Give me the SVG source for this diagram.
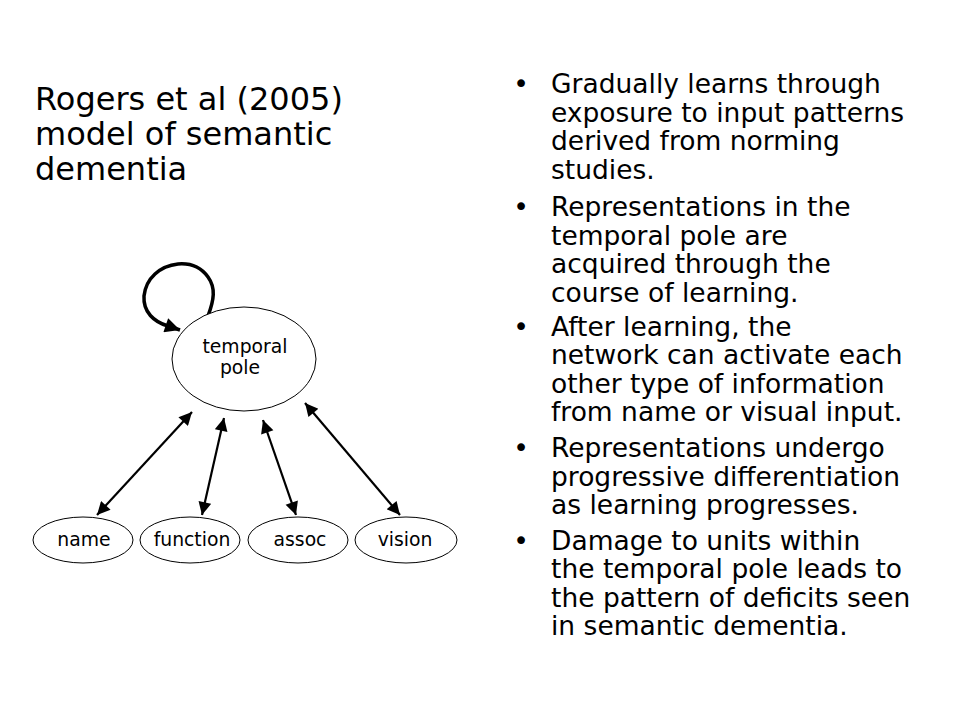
<svg xmlns="http://www.w3.org/2000/svg" width="960" height="720" viewBox="0 0 960 720">
<style>
text{font-family:"DejaVu Sans","Liberation Sans",sans-serif;fill:#000}
.title{font-size:32px}
.b{font-size:26.5px}
.lbl{font-size:18.8px;text-anchor:middle}
.node{fill:#fff;stroke:#000;stroke-width:1}
.conn{fill:none;stroke:#000;stroke-width:2.2}
.loop{fill:none;stroke:#000;stroke-width:3.5}
</style>
<defs>
<marker id="ah" viewBox="0 0 10 10" refX="10" refY="5" markerUnits="userSpaceOnUse" markerWidth="15" markerHeight="13" orient="auto-start-reverse">
<path d="M0,0 L10,5 L0,10 z" fill="#000"/>
</marker>
<marker id="ahl" viewBox="0 0 10 10" refX="10" refY="5" markerUnits="userSpaceOnUse" markerWidth="17" markerHeight="15" orient="auto">
<path d="M0,0 L10,5 L0,10 z" fill="#000"/>
</marker>
</defs>
<rect width="960" height="720" fill="#fff"/>
<g id="title">
<text class="title" x="35" y="110">Rogers et al (2005)</text>
<text class="title" x="35" y="145">model of semantic</text>
<text class="title" x="35" y="180">dementia</text>
</g>
<g id="bullets" class="b">
<text class="b" x="521" y="93" text-anchor="middle">•</text>
<text class="b" x="551" y="93">Gradually learns through</text>
<text class="b" x="551" y="121.5">exposure to input patterns</text>
<text class="b" x="551" y="150">derived from norming</text>
<text class="b" x="551" y="178.5">studies.</text>
<text class="b" x="521" y="216" text-anchor="middle">•</text>
<text class="b" x="551" y="216">Representations in the</text>
<text class="b" x="551" y="244.5">temporal pole are</text>
<text class="b" x="551" y="273">acquired through the</text>
<text class="b" x="551" y="301.5">course of learning.</text>
<text class="b" x="521" y="335.5" text-anchor="middle">•</text>
<text class="b" x="551" y="335.5">After learning, the</text>
<text class="b" x="551" y="364">network can activate each</text>
<text class="b" x="551" y="392.5">other type of information</text>
<text class="b" x="551" y="421">from name or visual input.</text>
<text class="b" x="521" y="457" text-anchor="middle">•</text>
<text class="b" x="551" y="457">Representations undergo</text>
<text class="b" x="551" y="485.5">progressive differentiation</text>
<text class="b" x="551" y="514">as learning progresses.</text>
<text class="b" x="521" y="549.5" text-anchor="middle">•</text>
<text class="b" x="551" y="549.5">Damage to units within</text>
<text class="b" x="551" y="578">the temporal pole leads to</text>
<text class="b" x="551" y="606.5">the pattern of deficits seen</text>
<text class="b" x="551" y="635">in semantic dementia.</text>
</g>
<g id="connectors">
<path class="loop" d="M208,316 C214,300 216,288 208,277 C200,266 190,263 178,264 C160,266 146,278 144,296 C143,312 154,322 168,326 L180,330" marker-end="url(#ahl)"/>
<line class="conn" x1="97" y1="515" x2="192" y2="412" marker-start="url(#ah)" marker-end="url(#ah)"/>
<line class="conn" x1="202" y1="515" x2="224" y2="418" marker-start="url(#ah)" marker-end="url(#ah)"/>
<line class="conn" x1="296" y1="515" x2="263" y2="420" marker-start="url(#ah)" marker-end="url(#ah)"/>
<line class="conn" x1="400" y1="515" x2="305" y2="403" marker-start="url(#ah)" marker-end="url(#ah)"/>
</g>
<g id="node-temporal">
<ellipse class="node" cx="244" cy="359" rx="72" ry="52"/>
<text class="lbl" x="245" y="353">temporal</text>
<text class="lbl" x="240" y="374">pole</text>
</g>
<g id="node-name">
<ellipse class="node" cx="83" cy="540" rx="50" ry="23"/>
<text class="lbl" x="84" y="546">name</text>
</g>
<g id="node-function">
<ellipse class="node" cx="190" cy="540" rx="50" ry="23"/>
<text class="lbl" x="192" y="546">function</text>
</g>
<g id="node-assoc">
<ellipse class="node" cx="298" cy="540" rx="50" ry="23"/>
<text class="lbl" x="300" y="546">assoc</text>
</g>
<g id="node-vision">
<ellipse class="node" cx="406" cy="540" rx="51" ry="23"/>
<text class="lbl" x="405" y="546">vision</text>
</g>
</svg>
